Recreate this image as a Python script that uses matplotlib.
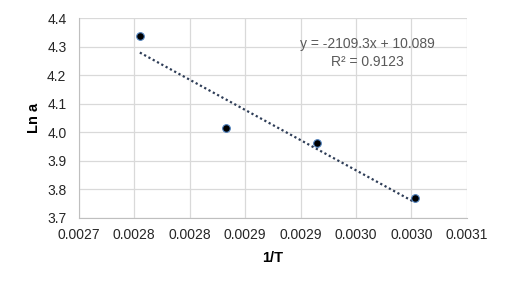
import numpy as np
import matplotlib.pyplot as plt

# 1/T values (T = 363, 353, 343, 333 K) and ln a
inv_T = [0.002755, 0.002833, 0.002915, 0.003003]
ln_a = [4.339, 4.016, 3.964, 3.771]

x_ticks = [0.0027, 0.00275, 0.0028, 0.00285, 0.0029, 0.00295, 0.0030, 0.00305]
x_tick_labels = ["0.0027", "0.0028", "0.0028", "0.0029", "0.0029", "0.0030", "0.0030", "0.0031"]
y_ticks = [3.7, 3.8, 3.9, 4.0, 4.1, 4.2, 4.3, 4.4]
y_tick_labels = ["3.7", "3.8", "3.9", "4.0", "4.1", "4.2", "4.3", "4.4"]

eq_text = "y = -2109.3x + 10.089"
r2_text = "R² = 0.9123"

plt.rcParams['font.family'] = ['Liberation Sans', 'DejaVu Sans']

fig = plt.figure(figsize=(5.09, 2.89), dpi=100)
ax = fig.add_axes([0.155, 0.246, 0.762, 0.691])

# linear trendline from the data
coef = np.polyfit(inv_T, ln_a, 1)
xs = np.array([inv_T[0], inv_T[-1]])
ax.plot(xs, np.polyval(coef, xs), linestyle=(0, (1, 1.2)), color='#2e3d57', linewidth=1.6, zorder=2)

ax.plot(inv_T, ln_a, linestyle='none', marker='o', markersize=5.5,
        markerfacecolor='black', markeredgecolor='#4f81bd', markeredgewidth=0.8, zorder=3)

ax.set_xlim(0.0027, 0.00305)
ax.set_ylim(3.7, 4.4)
ax.set_xticks(x_ticks)
ax.set_xticklabels(x_tick_labels)
ax.set_yticks(y_ticks)
ax.set_yticklabels(y_tick_labels)
ax.tick_params(length=0, labelsize=10, colors='#262626')
ax.tick_params(axis='y', pad=9)
ax.tick_params(axis='x', pad=7)

ax.grid(True, color='#d9d9d9', linewidth=0.9)
ax.set_axisbelow(True)
for side in ['top', 'right']:
    ax.spines[side].set_visible(False)
for side in ['left', 'bottom']:
    ax.spines[side].set_color('#bfbfbf')

ax.set_xlabel("1/T", fontsize=10.5, fontweight='bold', labelpad=7)
ax.set_ylabel("Ln a", fontsize=10.5, fontweight='bold', labelpad=4)

ax.text(0.745, 0.871, eq_text, transform=ax.transAxes, ha='center', va='center',
        fontsize=10, color='#595959')
ax.text(0.745, 0.781, r2_text, transform=ax.transAxes, ha='center', va='center',
        fontsize=10, color='#595959')

plt.savefig("out.png", dpi=100)
plt.close()
